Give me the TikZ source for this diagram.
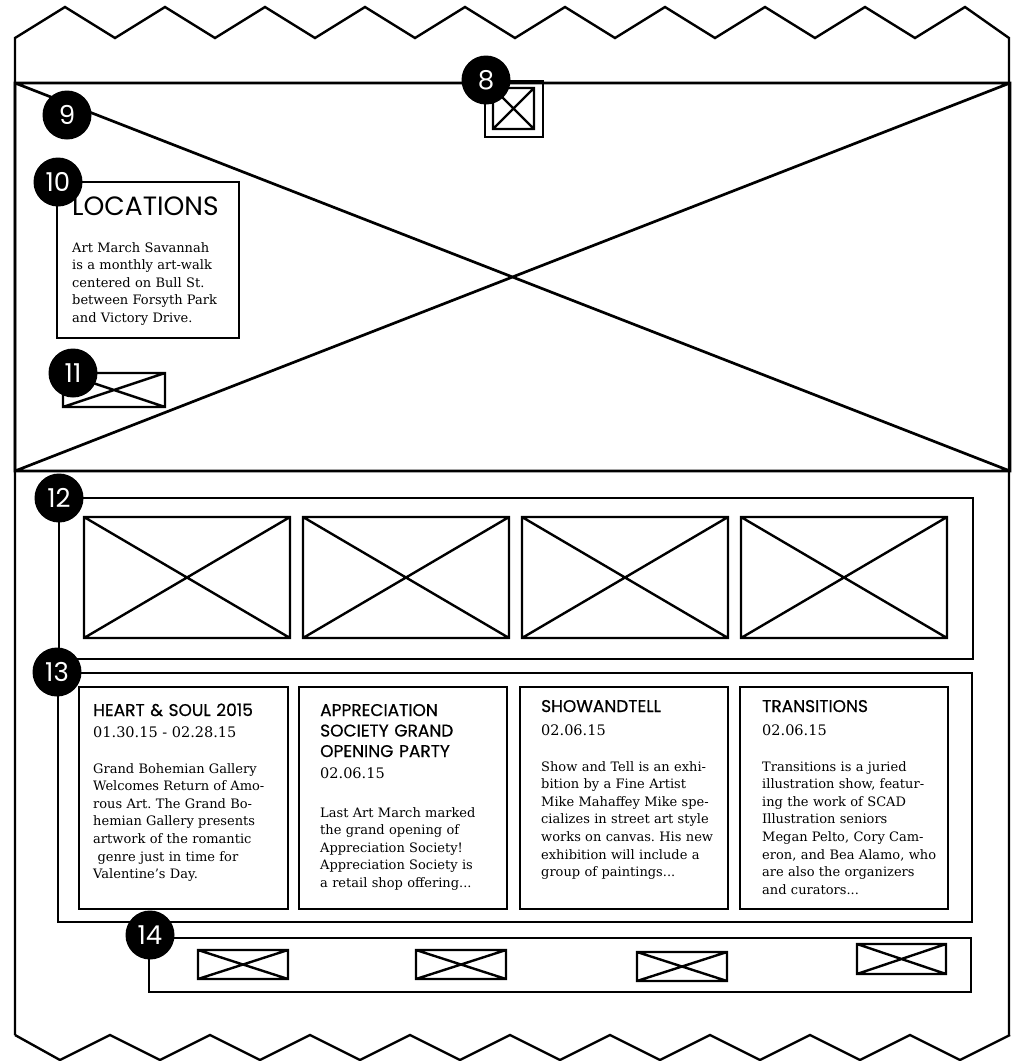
\documentclass[tikz,border=0pt]{standalone}
\usepackage{fontspec}
\setmainfont{DejaVu Serif}
\newfontfamily\headfont{Poppins}
\newfontfamily\titlefont[FakeBold=0.6]{Poppins}
\newcommand\ximg[4]{\draw[frame] (#1,#2) rectangle (#3,#4) (#1,#2) -- (#3,#4) (#1,#4) -- (#3,#2);}
\frenchspacing

\begin{document}
\begin{tikzpicture}[x=1pt,y=-1pt]
\tikzset{
  frame/.style={draw=black, line width=2.4pt},
  badge/.style={circle, fill=black, minimum size=49pt, inner sep=0pt, text=white, font=\headfont\fontsize{26}{26}\selectfont},
  title/.style={anchor=base west, inner sep=0pt, text width=200pt, align=left, font=\titlefont\fontsize{17}{20.5}\selectfont},
  date/.style={anchor=base west, inner sep=0pt, font=\fontsize{14.5}{17}\selectfont},
  body/.style={anchor=base west, inner sep=0pt, text width=240pt, align=left, font=\fontsize{13}{17.6}\selectfont}
}
\useasboundingbox (0,0) rectangle (1013,1061);
\draw [frame] (15,1035) -- (15,38) \foreach \k in {0,...,8} { -- ({65+100*\k},7) -- ({115+100*\k},38) } -- (965,7) -- (1009,38) -- (1009,1035);
\draw [frame] (15,1035) \foreach \k in {0,...,9} { -- ({60+100*\k},1060) -- ({110+100*\k},1035) };
\draw [frame, line width=2.7pt] (15,83) rectangle (1010,471) (15,83) -- (1010,471) (15,471) -- (1010,83);
\draw [frame] (485,81) rectangle (543,137);
\ximg{493}{88}{534}{129}
\draw [frame, fill=white] (57,182) rectangle (239,338);
\ximg{63}{373}{165}{407}
\draw [frame] (59,498) rectangle (973,659);
\foreach \x in {84,303,522,741} { \ximg{\x}{517}{\x+206}{638} }
\draw [frame] (58,673) rectangle (972,922);
\foreach \x/\w in {79/288,299/507,520/728,740/948} { \draw [frame] (\x,687) rectangle (\w,909); }
\draw [frame] (149,938) rectangle (971,992);
\ximg{198}{950}{288}{979}
\ximg{416}{950}{506}{979}
\ximg{637}{952}{727}{981}
\ximg{857}{944}{946}{974}
\node [title, font=\headfont\fontsize{26.5}{26.5}\selectfont] (loctitle) at (72,215) {LOCATIONS};
\node [body] (loctext) at (72,252) {Art March Savannah\\is a monthly art-walk\\centered on Bull St.\\between Forsyth Park\\and Victory Drive.};
\node [title] (t1) at (93,716) {HEART \& SOUL 2015};
\node [date] (d1) at (93,737) {01.30.15 - 02.28.15};
\node [body] (p1) at (93,773) {Grand Bohemian Gallery\\Welcomes Return of Amo-\\rous Art. The Grand Bo-\\hemian Gallery presents\\artwork of the romantic\\\ genre just in time for\\Valentine’s Day.};
\node [title] (t2) at (320,716) {APPRECIATION\\SOCIETY GRAND\\OPENING PARTY};
\node [date] (d2) at (320,778) {02.06.15};
\node [body] (p2) at (320,817) {Last Art March marked\\the grand opening of\\Appreciation Society!\\Appreciation Society is\\a retail shop offering...};
\node [title] (t3) at (541,712) {SHOWANDTELL};
\node [date] (d3) at (541,735) {02.06.15};
\node [body] (p3) at (541,771) {Show and Tell is an exhi-\\bition by a Fine Artist\\Mike Mahaffey Mike spe-\\cializes in street art style\\works on canvas. His new\\exhibition will include a\\group of paintings...};
\node [title] (t4) at (762,712) {TRANSITIONS};
\node [date] (d4) at (762,735) {02.06.15};
\node [body] (p4) at (762,771) {Transitions is a juried\\illustration show, featur-\\ing the work of SCAD\\Illustration seniors\\Megan Pelto, Cory Cam-\\eron, and Bea Alamo, who\\are also the organizers\\and curators...};
\node [badge] (b8) at (486,80) {8};
\node [badge] (b9) at (67,115) {9};
\node [badge] (b10) at (58,182) {10};
\node [badge] (b11) at (73,373) {11};
\node [badge] (b12) at (59,498) {12};
\node [badge] (b13) at (57,672) {13};
\node [badge] (b14) at (150,935) {14};
\end{tikzpicture}
\end{document}
